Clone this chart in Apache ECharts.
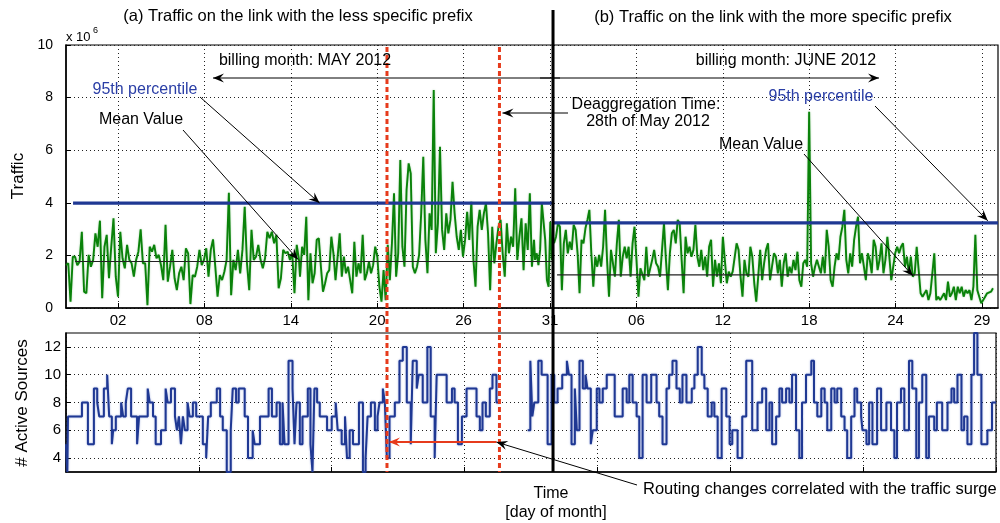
<!DOCTYPE html>
<html>
<head>
<meta charset="utf-8">
<script src="https://cdn.jsdelivr.net/npm/echarts@6/dist/echarts.min.js"></script>
<style>
  html, body { margin: 0; padding: 0; background: #fff; }
  #chart { width: 1000px; height: 523px; }
</style>
</head>
<body>
<div id="chart"></div>
<script>
// upper plot x: days, the "02" tick sits at t = 2, one tick every 6 days
var dayTicks = [2, 8, 14, 20, 26, 32, 38, 44, 50, 56, 62];
var dayLabels = ['02', '08', '14', '20', '26', '31', '06', '12', '18', '24', '29'];
var dayRange = [-1.61, 63.11];

// traffic (x 10^6)
var trafficMay1 = [1.63,1.70,0.24,1.95,1.95,1.63,1.76,2.90,0.62,0.56,2.02,1.57,1.83,2.84,2.33,3.32,0.37,2.33,2.78,1.13,
  2.33,3.41,1.19,0.43,2.90,1.89,1.51,2.40,1.83,1.70,1.19,1.83,2.14,2.99,1.70,1.70,0.11,2.33,2.14,2.40,
  1.89,2.02,1.63,1.06,3.16,1.00,1.57,2.21,1.13,0.68,1.32,1.57,1.06,2.27,2.08,0.15,1.25,1.19,1.57,2.21,
  1.63,1.83,2.27,1.19,2.21,2.61,1.57,0.43,1.25,1.06,1.38,1.83,4.38,0.49,1.83,1.44,2.21,1.32,2.21,3.85,
  1.70,0.68,2.97,1.83,1.95,2.40,1.83,1.51,1.89,2.90,2.65,2.90,2.46,2.78,0.75,1.13,2.21,2.08,2.14,1.83,
  2.08,0.56,2.40,1.83];
var trafficMay2 = [1.19,2.33,2.02,3.47,0.30,2.08,0.94,1.32,2.59,2.65,1.57,0.62,0.94,1.32,1.44,2.71,2.08,1.06,1.95,2.84,
  1.19,1.95,1.32,1.57,1.06,0.56,2.52,1.19,1.70,1.32,2.78,1.06,1.32,1.76,1.32,1.63,2.33,1.95,0.81,0.24,
  1.44,0.30,2.40,1.06,2.46,4.36,1.19,2.08,5.63,2.33,1.57,4.49,5.50,5.12,1.57,1.32,1.57,2.02,3.60,5.75,
  2.59,1.32,3.60,2.97,8.29,2.08,3.22,6.13,2.97,2.21,3.60,2.84,3.35,4.80,3.60,2.71,2.21,2.97,1.95,2.59,
  3.66,2.59,4.04,1.83,0.81,3.09,3.73,2.97,3.60,3.98,2.84,0.68,3.09,1.70,2.46,3.09,3.35,2.08,1.19,3.22,
  2.08,2.71,2.33,4.55,1.83,2.71,3.41,1.44,3.22,2.21,4.36,1.57,2.59];
var trafficMay3 = [1.83,2.08,1.63,2.21,3.98,3.98,2.59,1.06,0.81,3.28,1.83];
var trafficJune1 = [2.46,2.71,3.22,3.09,0.68,2.46,2.97,2.08,2.52,2.21,3.16,2.97,2.08,0.56,2.59,2.46,3.03,3.35,3.73,2.08,
  0.81,1.95,1.57,2.02,1.57,2.33,3.73,1.83,0.43,2.21,2.21,1.19,2.46,3.35,1.19,1.95,2.33,1.89,2.33,1.19,
  2.46,3.09,1.83,0.43,1.51,1.44,1.06,2.33,1.19,1.25,1.83,2.21,1.70,1.57,1.19,2.21,3.22,1.83,0.68,2.08,
  2.84,2.97,2.46,3.35,3.22,1.83,0.56,2.71,2.08,2.33,1.95,2.21,3.16,1.95,1.57,2.21,1.44,1.95,1.19,2.33,
  2.59,0.81,1.83,1.19,1.70,0.94,2.71,1.83,0.94,1.38,1.19,1.38,1.32,2.46,2.21,1.19,0.43,1.83,1.32,1.19,
  2.33,1.95,0.94,0.24,1.19,2.21,1.06,1.70,2.21,2.46];
var trafficJune2 = [1.06,1.57,2.08,1.95,1.32,1.83,0.81,1.70,2.08,1.19,1.57,1.32,1.83,1.44,2.14,1.06,0.81,1.70,1.83,1.57,
  7.46,1.70,1.19,1.57,1.83,1.57,1.32,1.95,1.32,2.97,2.33,1.06,0.81,1.57,2.08,1.83,2.71,3.09,3.73,1.83,
  1.32,2.08,1.57,2.59,3.09,3.47,1.70,2.08,1.57,1.06,2.08,1.83,1.32,2.59,2.33,1.44,1.83,2.46,1.32,1.83,
  2.71,1.95,1.06,1.57,2.08,2.33,2.08,2.33,2.46,1.57,1.95,1.32,1.95,1.19,1.32,2.33,2.40,0.56,0.43,0.56,
  0.68,0.30,0.56,1.32,2.08,0.30,0.43,0.30,0.43,0.56,0.30,1.00,0.43,0.56,0.81,0.30,0.81,0.56,0.81,0.43,
  0.68,0.56,0.68,0.30,0.81,2.78,0.68,0.43,0.18,0.30,0.43,0.56,0.56,0.62,0.75];
// day span covered by each piece above
var pieceDaysMay = [[-1.61, 14.57], [14.64, 30.89], [30.96, 32.14]];
var pieceDaysJune = [[32.28, 47.14], [47.28, 62.76]];

// 95th percentile and mean per billing month
var p95 = [3.99, 3.24];
var meanVal = [1.77, 1.26];
var p95Days = [[-1.12, 32.21], [32.21, 63.11]];
var meanDays = [[-0.98, 32.21], [32.49, 63.11]];

// marked instants (days)
var redDays = [20.68, 28.49];   // surge start, deaggregation (28 May)
var splitDay = 32.21;           // end of May billing month
var surgeLevel = 5.15;

// lower plot: [sample, number of active sources], the value holds until the next sample
var sourcesMay = [[0,5],[1,3],[1.5,7],[12,8],[16.5,5],[21,9],[23.5,8],[25,7],[28.5,9],[31,10],[32.5,7],[34.5,5],
  [35.5,6],[37.5,7],[41.5,8],[43,7],[45,8],[46.5,9],[49,7],[53.5,5],[55,7],[61.5,9],[63,8],[65.5,7],[67.5,5],
  [71.5,6],[75,9],[76.5,8],[79,9],[82,7],[83.5,6],[85,7],[86.5,5],[88,7],[89.5,6],[91.5,8],[93,7],[95.5,8],
  [98,7],[103,5],[105.5,4],[107,7],[109,8],[113.5,9],[116,7],[118,6],[121,3],[124,6],[125.5,9],[128,8],[130,9],
  [134.5,7],[137,4],[140.5,6],[142,5],[146,7],[152.5,9],[155,7],[158.5,8],[161,5],[163,8],[164.5,5],[167.5,11],
  [170.5,9],[172,5],[173.5,8],[176,5],[178,7],[182,9],[184,5],[185.5,3],[187,9],[189,8],[191,7],[196.5,6],
  [200,7],[203,8],[204.5,6],[207.5,5],[210,7],[211.5,4],[213.5,6],[216,5],[220.5,8],[223.5,3],[225.5,4],
  [227,7],[229.5,8],[232.5,6],[234.5,7],[236,8],[238.5,9],[240,8],[241.5,4],[243.5,7],[247.5,8],[251,11],
  [253.5,12],[256.5,8],[259.5,5],[261,11],[264,9],[265.5,10],[268.5,8],[272,12],[274.5,7],[277.5,4],[279,10],
  [286.5,8],[290.5,9],[292.5,8],[295,5],[298,7],[301.5,9],[309,7],[311.5,6],[313.5,8],[316,7],[319,9],
  [321,10],[324,8],[326.5,8]];
var sourcesJune = [[347.5,6],[349.5,11],[351,7],[352.5,8],[355.5,11],[358,10],[362.5,5],[365.5,10],[367.5,8],
  [370,9],[373.5,10],[377,11],[378.5,10],[380.5,5],[383,9],[384.5,6],[386.5,11],[389,9],[391,10],[392.5,9],
  [395,5],[396.5,6],[399.5,9],[401.5,8],[404,9],[407,10],[413,7],[419,9],[422,8],[424,10],[426.5,8],[429.5,7],
  [431.5,4],[434,10],[437,8],[440.5,10],[444.5,8],[446.5,7],[449,5],[452,9],[454,10],[456.5,11],[459.5,9],
  [462,8],[464,10],[467,8],[471,9],[473,10],[475.5,12],[478.5,10],[480.5,9],[483,7],[486,8],[488,7],[490.5,4],
  [493.5,9],[497,7],[499.5,5],[501.5,6],[505.5,4],[509,7],[512,11],[516.5,6],[520.5,8],[524,9],[527,6],
  [529.5,8],[531.5,5],[534.5,7],[537,9],[539,8],[542,9],[544.5,8],[546.5,10],[549.5,6],[552,4],[554,8],
  [557,10],[561,11],[563,8],[565.5,7],[568.5,9],[571,8],[573,6],[576,9],[578.5,8],[580.5,9],[583.5,7],[586,6],
  [588,4],[591,7],[593.5,9],[595.5,8],[598.5,7],[599.5,6],[602.5,5],[604.5,8],[607,5],[610.5,9],[613.5,6],
  [617.5,8],[621,6],[623.5,4],[625.5,8],[628.5,9],[631,6],[634.5,11],[637,9],[640,4],[642,8],[644.5,10],
  [647.5,4],[649.5,7],[653.5,6],[655.5,8],[659.5,6],[663.5,8],[666.5,9],[668.5,8],[671,10],[674,6],[676,7],
  [678.5,5],[681.5,10],[683.5,13],[686,10],[689,5],[693.5,6],[697,8],[700,8]];
var sourceTicks = [4, 6, 8, 10, 12];

var FONT = '"Liberation Sans", Arial, Helvetica, sans-serif';
var GREEN = '#0a820a', NAVY = '#1f3893', RED = '#e63b1c', BLUE_TXT = '#2a3ea6';

var chart = echarts.init(document.getElementById('chart'));

// spread a piece of readings evenly over its day span
function spread(pieces, spans) {
  var out = [];
  pieces.forEach(function (vals, k) {
    var a = spans[k][0], b = spans[k][1], step = (b - a) / (vals.length - 1);
    vals.forEach(function (v, i) { out.push([a + i * step, v]); });
  });
  return out;
}

function hline(span, v) { return [[span[0], v], [span[1], v]]; }

var dotted = { color: '#222', type: [1, 3], width: 1 };

var option = {
  animation: false,
  backgroundColor: '#fff',
  textStyle: { fontFamily: FONT },
  grid: [
    { left: 66, top: 45, width: 932, height: 263, show: true, borderColor: '#000', borderWidth: 1.2, outerBoundsMode: 'none' },
    { left: 66, top: 333, width: 930, height: 139, show: true, borderColor: '#000', borderWidth: 1.2, outerBoundsMode: 'none' }
  ],
  xAxis: [
    {
      type: 'value', gridIndex: 0, min: dayRange[0], max: dayRange[1],
      axisLine: { onZero: false, lineStyle: { color: '#000', width: 1.5 } },
      axisTick: { inside: true, length: 5, customValues: dayTicks, lineStyle: { color: '#000' } },
      axisLabel: {
        customValues: dayTicks, color: '#000', fontSize: 15, margin: 5,
        formatter: function (v) {
          for (var i = 0; i < dayTicks.length; i++) if (Math.abs(dayTicks[i] - v) < 1e-6) return dayLabels[i];
          return '';
        }
      },
      splitLine: { show: true, lineStyle: dotted }
    },
    {
      type: 'value', gridIndex: 1, min: 0, max: 700, interval: 100,
      axisLine: { onZero: false, lineStyle: { color: '#000', width: 1.5 } },
      axisTick: { inside: true, length: 5, lineStyle: { color: '#000' } },
      axisLabel: { show: false },
      splitLine: { show: true, lineStyle: dotted }
    }
  ],
  yAxis: [
    {
      type: 'value', gridIndex: 0, min: 0, max: 10, interval: 2,
      axisLine: { show: true, onZero: false, lineStyle: { color: '#000', width: 1.5 } },
      axisTick: { show: true, inside: true, length: 5, lineStyle: { color: '#000' } },
      axisLabel: { color: '#000', fontSize: 14, margin: 13 },
      splitLine: { show: true, lineStyle: dotted }
    },
    {
      type: 'value', gridIndex: 1, min: 3, max: 13,
      axisLine: { show: true, onZero: false, lineStyle: { color: '#000', width: 1.5 } },
      axisTick: { show: true, inside: true, length: 5, customValues: sourceTicks, lineStyle: { color: '#000' } },
      axisLabel: { customValues: sourceTicks, color: '#000', fontSize: 15, margin: 5 },
      splitLine: { show: true, lineStyle: dotted }
    }
  ],
  series: [
    { name: 'trafficMay', type: 'line', xAxisIndex: 0, yAxisIndex: 0, showSymbol: false, z: 3,
      lineStyle: { color: GREEN, width: 1.9, shadowColor: 'rgba(20,140,20,0.35)', shadowBlur: 2 },
      data: spread([trafficMay1, trafficMay2, trafficMay3], pieceDaysMay) },
    { name: 'trafficJune', type: 'line', xAxisIndex: 0, yAxisIndex: 0, showSymbol: false, z: 3,
      lineStyle: { color: GREEN, width: 1.9, shadowColor: 'rgba(20,140,20,0.35)', shadowBlur: 2 },
      data: spread([trafficJune1, trafficJune2], pieceDaysJune) },
    { type: 'line', xAxisIndex: 0, yAxisIndex: 0, showSymbol: false, z: 4,
      lineStyle: { color: '#222', width: 1.1 }, data: hline(meanDays[0], meanVal[0]) },
    { type: 'line', xAxisIndex: 0, yAxisIndex: 0, showSymbol: false, z: 4,
      lineStyle: { color: '#222', width: 1.1 }, data: hline(meanDays[1], meanVal[1]) },
    { type: 'line', xAxisIndex: 0, yAxisIndex: 0, showSymbol: false, z: 5,
      lineStyle: { color: NAVY, width: 3.2 }, data: hline(p95Days[0], p95[0]) },
    { type: 'line', xAxisIndex: 0, yAxisIndex: 0, showSymbol: false, z: 5,
      lineStyle: { color: NAVY, width: 3.2 }, data: hline(p95Days[1], p95[1]) },
    { name: 'sourcesMay', type: 'line', step: 'end', xAxisIndex: 1, yAxisIndex: 1, showSymbol: false, z: 3,
      lineStyle: { color: NAVY, width: 2, shadowColor: 'rgba(40,70,180,0.45)', shadowBlur: 2 },
      data: sourcesMay },
    { name: 'sourcesJune', type: 'line', step: 'end', xAxisIndex: 1, yAxisIndex: 1, showSymbol: false, z: 3,
      lineStyle: { color: NAVY, width: 2, shadowColor: 'rgba(40,70,180,0.45)', shadowBlur: 2 },
      data: sourcesJune }
  ]
};
chart.setOption(option);

// ---- annotations ----
function topPx(d, v) { return chart.convertToPixel({ gridIndex: 0 }, [d, v]); }
function botPx(s, v) { return chart.convertToPixel({ gridIndex: 1 }, [s, v]); }

function text(x, y, str, opt) {
  opt = opt || {};
  return {
    type: 'text', x: x, y: y, rotation: opt.rot || 0, z: 30,
    style: {
      text: str, fill: opt.color || '#000', fontSize: opt.size || 16, fontFamily: FONT,
      align: opt.align || 'center', verticalAlign: 'middle',
      textAlign: opt.align || 'center', textVerticalAlign: 'middle'
    }
  };
}
function seg(x1, y1, x2, y2, color, width, dash) {
  return { type: 'line', z: 25, shape: { x1: x1, y1: y1, x2: x2, y2: y2 },
    style: { stroke: color, lineWidth: width || 1, lineDash: dash || null } };
}
function head(x1, y1, x2, y2, color) {
  var a = Math.atan2(y2 - y1, x2 - x1), c = Math.cos(a), s = Math.sin(a);
  var len = 11, w = 4.5, back = 7;
  return { type: 'polygon', z: 26, style: { fill: color },
    shape: { points: [[x2, y2],
      [x2 - len * c + w * s, y2 - len * s - w * c],
      [x2 - back * c, y2 - back * s],
      [x2 - len * c - w * s, y2 - len * s + w * c]] } };
}
function arrow(x1, y1, x2, y2, color, width) {
  color = color || '#000';
  return [seg(x1, y1, x2, y2, color, width || 1), head(x1, y1, x2, y2, color)];
}

var xr0 = topPx(redDays[0], 0)[0], xr1 = topPx(redDays[1], 0)[0];
var xs = topPx(splitDay, 0)[0];
var yTop = topPx(0, 10)[1], yBot = botPx(0, 3)[1];
var ySurge = botPx(0, surgeLevel)[1];

var g = [];
// red dashed instants and the month split
g.push(seg(xr0, yTop + 2, xr0, yBot, RED, 3, [5, 3]));
g.push(seg(xr1, yTop + 2, xr1, yBot, RED, 3, [5, 3]));
g.push(seg(xs, 10, xs, yBot, '#000', 3));

// billing months
g = g.concat(arrow(560, 78, 213, 78));
g = g.concat(arrow(540, 78, 879, 78));
g.push(text(305, 61, 'billing month: MAY 2012'));
g.push(text(786, 61, 'billing month: JUNE 2012'));

// May annotations
g.push(text(145, 90, '95th percentile', { color: BLUE_TXT }));
g = g.concat(arrow(200, 97, topPx(16, 0)[0], topPx(0, p95[0])[1]));
g.push(text(141, 120, 'Mean Value'));
g = g.concat(arrow(183, 130, topPx(14.5, 0)[0], topPx(0, meanVal[0])[1] - 2));

// deaggregation
g.push(text(646, 105, 'Deaggregation Time:'));
g.push(text(648, 122, '28th of May 2012'));
g = g.concat(arrow(568, 113, xr1 + 3, 113));

// June annotations
g.push(text(821, 97, '95th percentile', { color: BLUE_TXT }));
g = g.concat(arrow(875, 106, topPx(62.4, 0)[0], topPx(0, p95[1])[1] - 2));
g.push(text(761, 145, 'Mean Value'));
g = g.concat(arrow(804, 154, topPx(57.2, 0)[0], topPx(0, meanVal[1])[1] + 1));

// routing changes
g.push(seg(xr1 - 3, ySurge, xr0 + 3, ySurge, RED, 2));
g.push(head(xr1, ySurge, xr0 + 2, ySurge, RED));
g = g.concat(arrow(637, 485, xr1 - 3, ySurge));
g.push(text(643, 489, 'Routing changes correlated with the traffic surge', { align: 'left', size: 16.5 }));

// titles and axis names
g.push(text(298, 16, '(a) Traffic on the link with the less specific prefix', { size: 16.5 }));
g.push(text(773, 17, '(b) Traffic on the link with the more specific prefix', { size: 16.5 }));
g.push(text(66, 37, 'x 10', { size: 13, align: 'left' }));
g.push(text(93, 31, '6', { size: 9, align: 'left' }));
g.push(text(18, 176, 'Traffic', { size: 17, rot: Math.PI / 2 }));
g.push(text(22, 403, '# Active Sources', { size: 17, rot: Math.PI / 2 }));
g.push(text(551, 494, 'Time', { size: 16 }));
g.push(text(556, 513, '[day of month]', { size: 16 }));

chart.setOption({ graphic: { elements: g } });
</script>
</body>
</html>
